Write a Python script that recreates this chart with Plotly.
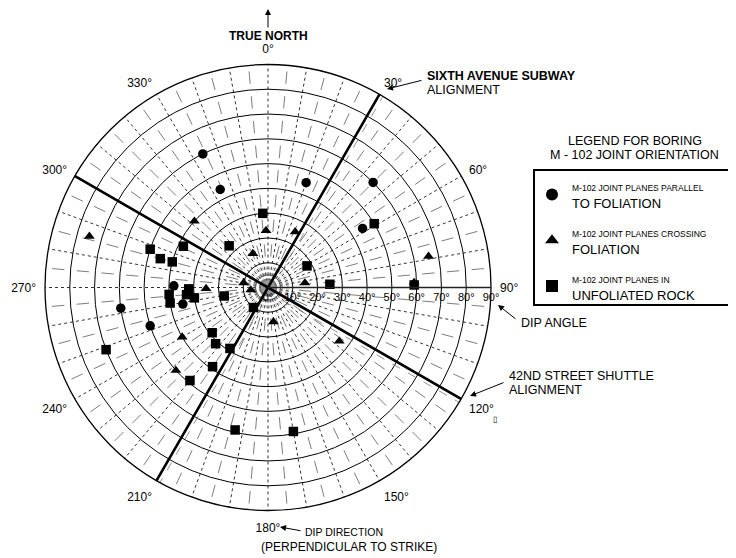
import math
import plotly.graph_objects as go

# ---- data (dip direction in degrees clockwise from north, dip angle in degrees) ----
par_dir = [334, 334, 20, 45, 58, 271, 259, 262, 252]
par_dip = [60, 44, 45, 60, 45, 38, 35, 60, 50]

cross_dir = [286, 312, 336, 269, 281, 262, 240, 228, 358, 26, 79, 83, 171, 127, 88]
cross_dip = [75, 40, 15, 25, 10, 7, 40, 50, 23, 25, 66, 15, 14, 36, 59]

unfol_dir = [356, 288, 296, 285, 285, 317, 259, 216, 266, 261, 269, 265, 262,
             249, 231, 223, 212, 215, 220, 193, 170, 61, 87, 89, 59]
unfol_dip = [30, 50, 38, 45, 40, 23, 18, 10, 40, 40, 32, 33, 30,
             70, 29, 31, 29, 39, 49, 59, 59, 18, 25, 59, 50]

angle_ticks = list(range(0, 360, 10))
angle_labels = [f"{a}°" if a % 30 == 0 else "" for a in angle_ticks]
dip_ticks = list(range(0, 100, 10))
dip_labels = [f"{d}°" for d in dip_ticks]

sixth_ave = {"theta": [30, 210], "r": [95, 97]}
shuttle = {"theta": [300, 120], "r": [97, 95]}

FONT = "Liberation Sans, Arial, sans-serif"
OFF = 8                      # page body margin of the html page
W, H = 736 - OFF, 558 - OFF  # figure size so that it fills the window
CX, CY, R = 268 - OFF, 287.5 - OFF, 223

fig = go.Figure()

# ring dashes (intermediate radial dashes between dotted grid lines)
dash_t, dash_r = [], []
for ring in range(10, 90, 10):
    for a in range(5, 360, 10):
        dash_t += [a, a, None]
        dash_r += [ring + 2.5, ring + 7.5, None]
fig.add_trace(go.Scatterpolar(theta=dash_t, r=dash_r, mode="lines",
                              line=dict(color="#444", width=0.7),
                              showlegend=False, hoverinfo="skip"))

# dense centre hatching
hat_t, hat_r = [], []
for a in range(0, 360, 5):
    hat_t += [a, a, None]
    hat_r += [0, 10, None]
fig.add_trace(go.Scatterpolar(theta=hat_t, r=hat_r, mode="lines",
                              line=dict(color="#666", width=0.6, dash="dot"),
                              showlegend=False, hoverinfo="skip"))
circ = list(range(0, 361, 5))
fig.add_trace(go.Scatterpolar(theta=circ, r=[3] * len(circ), mode="lines",
                              fill="toself", fillcolor="#999",
                              line=dict(color="#777", width=0.6),
                              showlegend=False, hoverinfo="skip"))
fig.add_trace(go.Scatterpolar(theta=circ, r=[5] * len(circ), mode="lines",
                              line=dict(color="#444", width=0.8),
                              showlegend=False, hoverinfo="skip"))


# thin dashed companion lines running beside the alignments
def parallel(theta_a, offset, s_from, s_to, n=12):
    ux, uy = math.sin(math.radians(theta_a)), math.cos(math.radians(theta_a))
    nx, ny = uy, -ux
    th, rr = [], []
    for i in range(n + 1):
        s = s_from + (s_to - s_from) * i / n
        x, y = s * ux + offset * nx, s * uy + offset * ny
        rr.append(math.hypot(x, y))
        th.append(math.degrees(math.atan2(x, y)) % 360)
    return th, rr


for ta, off, s0, s1 in [(30, 1.6, 8, 92), (210, -1.6, 8, 94), (120, 1.6, 8, 94)]:
    th, rr = parallel(ta, off, s0, s1)
    fig.add_trace(go.Scatterpolar(theta=th, r=rr, mode="lines",
                                  line=dict(color="#777", width=0.8, dash="dash"),
                                  showlegend=False, hoverinfo="skip"))

# alignment lines
for ln in (sixth_ave, shuttle):
    fig.add_trace(go.Scatterpolar(theta=[ln["theta"][0], 0, ln["theta"][1]],
                                  r=[ln["r"][0], 0, ln["r"][1]],
                                  mode="lines", line=dict(color="black", width=2.6),
                                  showlegend=False, hoverinfo="skip"))


def leg(small, big):
    return f"<span style='font-size:8.5px'>{small}</span><br>{big}"


fig.add_trace(go.Scatterpolar(theta=par_dir, r=par_dip, mode="markers",
                              marker=dict(symbol="circle", size=9.5, color="black"),
                              name=leg("M-102 JOINT PLANES PARALLEL", "TO FOLIATION"),
                              legendgroup="a"))
fig.add_trace(go.Scatterpolar(theta=cross_dir, r=cross_dip, mode="markers",
                              marker=dict(symbol="triangle-up", size=9.5, color="black"),
                              name=leg("M-102 JOINT PLANES CROSSING", "FOLIATION"),
                              legendgroup="b"))
fig.add_trace(go.Scatterpolar(theta=unfol_dir, r=unfol_dip, mode="markers",
                              marker=dict(symbol="square", size=9.5, color="black"),
                              name=leg("M-102 JOINT PLANES IN", "UNFOLIATED ROCK"),
                              legendgroup="c"))


def px(x, y):
    """reference-window pixel -> paper coordinates"""
    return (x - OFF) / W, 1 - (y - OFF) / H


fig.update_layout(
    width=W, height=H,
    margin=dict(l=0, r=0, t=0, b=0),
    paper_bgcolor="white", plot_bgcolor="white",
    font=dict(family=FONT, color="black", size=12),
    polar=dict(
        domain=dict(x=[(CX - R) / W, (CX + R) / W],
                    y=[(H - CY - R) / H, (H - CY + R) / H]),
        bgcolor="white",
        angularaxis=dict(rotation=90, direction="clockwise",
                         tickmode="array", tickvals=angle_ticks, ticktext=angle_labels,
                         ticks="outside", ticklen=6, tickcolor="rgba(0,0,0,0)",
                         showline=True, linecolor="black", linewidth=1.3,
                         showgrid=True, gridcolor="#333", gridwidth=0.8, griddash="dot",
                         tickfont=dict(size=12, family=FONT)),
        radialaxis=dict(range=[0, 90], tickmode="array", tickvals=dip_ticks,
                        ticktext=dip_labels, angle=0, side="clockwise",
                        ticks="", showline=True, linecolor="#222", linewidth=1.3,
                        showgrid=True, gridcolor="black", gridwidth=1.1,
                        tickfont=dict(size=11, family=FONT)),
    ),
    legend=dict(x=px(532, 0)[0], y=px(0, 171)[1], xanchor="left", yanchor="top",
                bgcolor="rgba(0,0,0,0)", borderwidth=0,
                font=dict(size=13, family=FONT), tracegroupgap=9,
                itemsizing="constant"),
    shapes=[dict(type="rect", xref="paper", yref="paper",
                 x0=px(534, 0)[0], x1=1.02, y0=px(0, 305)[1], y1=px(0, 170)[1],
                 line=dict(color="black", width=2))],
)

annots = []


def text(x, y, s, size=12, xanchor="center", bold=False):
    xx, yy = px(x, y)
    annots.append(dict(x=xx, y=yy, xref="paper", yref="paper",
                       text=(f"<b>{s}</b>" if bold else s),
                       showarrow=False, xanchor=xanchor, yanchor="middle",
                       font=dict(size=size, family=FONT, color="black")))


def arrow(hx, hy, tx, ty):
    xx, yy = px(hx, hy)
    annots.append(dict(x=xx, y=yy, xref="paper", yref="paper", text="",
                       showarrow=True, arrowhead=2, arrowsize=1.2, arrowwidth=1,
                       arrowcolor="black", ax=tx - hx, ay=ty - hy))


text(268, 36, "TRUE NORTH", 12, bold=True)
arrow(268, 8, 268, 29)
text(635, 141, "LEGEND FOR BORING", 12.5)
text(634, 155, "M - 102 JOINT ORIENTATION", 12.5)
text(425, 76, "SIXTH AVENUE SUBWAY", 12.5, "left", bold=True)
text(425, 90, "ALIGNMENT", 12.5, "left")
arrow(387, 89, 423, 80)
text(519, 323, "DIP ANGLE", 12.5, "left")
arrow(498, 305, 517, 320)
text(507, 376, "42ND STREET SHUTTLE", 12.5, "left")
text(507, 390, "ALIGNMENT", 12.5, "left")
arrow(470, 396, 505, 382)
text(495, 419, "▯", 8)
text(303, 532, "DIP DIRECTION", 10.5, "left")
arrow(280, 527, 302, 531)
text(349, 547, "(PERPENDICULAR TO STRIKE)", 12)
fig.update_layout(annotations=annots)

fig.write_html("out.html")
